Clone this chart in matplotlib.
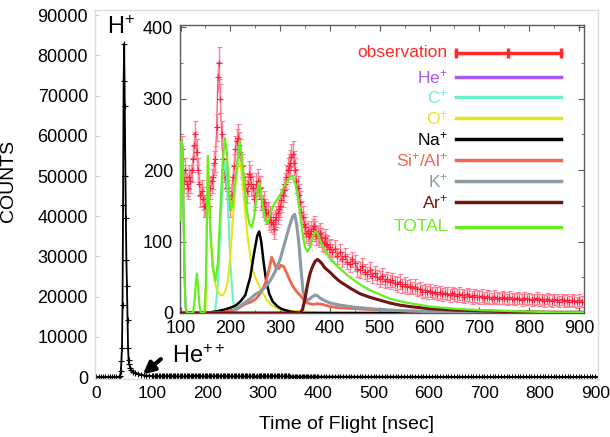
import matplotlib
matplotlib.use("Agg")
import matplotlib.pyplot as plt
import numpy as np

plt.rcParams['font.family'] = ['Liberation Sans', 'DejaVu Sans']
plt.rcParams['mathtext.fontset'] = 'custom'
plt.rcParams['mathtext.rm'] = 'Liberation Sans'
plt.rcParams['mathtext.it'] = 'Liberation Sans'
plt.rcParams['mathtext.default'] = 'regular'

# main panel: H+ peak region (ns, counts)
tof_head = [0, 4, 8, 12, 16, 20, 24, 28, 32, 36, 40, 43, 44, 45, 46, 47, 48, 49, 50, 51,
            52, 53, 54, 55, 56, 57, 58, 59, 61, 63, 66, 70, 75, 80, 85, 90, 95]
counts_head = [0, 0, 0, 0, 0, 0, 0, 0, 0, 0, 0, 300, 1500, 4000, 7200, 17900, 42700, 73700, 82900, 67500,
               49900, 39500, 29000, 22600, 14100, 7200, 4200, 3200, 2200, 1700, 1300, 1000, 800, 600, 450, 350, 300]

# observation: 100..397.5 ns every 2.5 ns, then 400..905 ns every 5 ns
tof_obs_a = np.arange(100, 400, 2.5)
obs_a = [215, 230, 190, 185, 200, 180, 175, 190, 185, 200,
         215, 235, 250, 225, 200, 180, 165, 170, 160, 150,
         150, 160, 165, 150, 175, 185, 190, 210, 215, 260,
         330, 350, 300, 250, 215, 200, 190, 175, 170, 160,
         150, 165, 190, 205, 230, 240, 245, 235, 225, 205,
         190, 180, 175, 170, 180, 195, 190, 180, 175, 160,
         165, 180, 185, 175, 175, 160, 150, 155, 145, 140,
         140, 130, 135, 128, 125, 118, 130, 135, 140, 145,
         150, 158, 165, 172, 180, 190, 200, 205, 210, 218,
         222, 210, 200, 185, 175, 165, 155, 142, 135, 125,
         120, 112, 115, 108, 110, 115, 118, 122, 115, 108,
         110, 105, 112, 106, 100, 98, 105, 96, 95, 90]
err_a = [18, 18, 17, 17, 17, 16, 16, 17, 17, 17,
         18, 18, 19, 18, 17, 16, 16, 16, 16, 15,
         15, 16, 16, 15, 16, 17, 17, 17, 18, 19,
         21, 22, 20, 19, 18, 17, 17, 16, 16, 16,
         15, 16, 17, 17, 18, 18, 19, 18, 18, 17,
         17, 16, 16, 16, 16, 17, 17, 16, 16, 16,
         16, 16, 17, 16, 16, 16, 15, 15, 15, 15,
         15, 14, 15, 14, 14, 14, 14, 15, 15, 15,
         15, 16, 16, 16, 16, 17, 17, 17, 18, 18,
         18, 17, 17, 17, 16, 16, 15, 15, 15, 14,
         14, 14, 14, 13, 13, 14, 14, 14, 14, 13,
         13, 13, 14, 13, 13, 13, 13, 13, 13, 12]
tof_obs_b = np.arange(400, 910, 5)
obs_b = [92, 85, 90, 80, 85, 75, 80, 72, 68, 75,
         70, 62, 60, 66, 58, 55, 60, 52, 56, 50,
         48, 52, 45, 47, 43, 46, 42, 40, 44, 38,
         40, 36, 38, 35, 37, 33, 34, 30, 32, 29,
         31, 28, 30, 27, 29, 26, 28, 27, 25, 28,
         26, 24, 27, 25, 23, 26, 24, 22, 25, 23,
         22, 24, 21, 23, 22, 20, 23, 21, 20, 22,
         21, 19, 22, 20, 19, 21, 20, 18, 21, 19,
         20, 18, 19, 21, 18, 19, 17, 20, 18, 17,
         19, 18, 16, 19, 17, 18, 16, 18, 17, 15,
         18, 16]
err_b = [12, 12, 12, 11, 12, 11, 11, 11, 11, 11,
         11, 11, 11, 11, 11, 10, 11, 10, 10, 10,
         11, 11, 10, 10, 10, 10, 10, 10, 10, 10,
         10, 10, 10, 9, 10, 9, 9, 9, 9, 9,
         9, 9, 9, 9, 9, 9, 9, 9, 9, 9,
         9, 9, 9, 9, 9, 9, 9, 9, 9, 9,
         9, 9, 9, 9, 9, 8, 9, 9, 8, 9,
         9, 8, 9, 8, 8, 9, 8, 8, 9, 8,
         8, 8, 8, 9, 8, 8, 8, 8, 8, 8,
         8, 8, 8, 8, 8, 8, 8, 8, 8, 8,
         8, 8]
tof_obs = np.concatenate([tof_obs_a, tof_obs_b])
obs = obs_a + obs_b
obs_err = err_a + err_b

# model components
he_t = [100, 102, 104, 106, 108, 110, 112, 910]
he_v = [180, 240, 232, 140, 55, 10, 0, 0]
c_t = [100, 165, 170, 175, 180, 185, 189, 193, 197, 201, 205, 210, 215, 910]
c_v = [0, 0, 5, 40, 120, 190, 212, 190, 120, 60, 20, 3, 0, 0]
o_t = [100, 150, 153, 155, 157, 160, 165, 170, 175, 180, 185, 190, 195, 200, 205, 210, 215, 220,
       225, 230, 235, 240, 245, 250, 255, 260, 270, 280, 290, 300, 320, 350, 400, 910]
o_v = [0, 0, 120, 215, 170, 110, 60, 40, 30, 25, 25, 30, 45, 80, 130, 180, 205, 210,
       180, 140, 105, 80, 60, 50, 42, 35, 22, 12, 8, 5, 3, 2, 0, 0]
na_t = [100, 150, 170, 190, 210, 220, 230, 240, 248, 254, 258, 262, 267, 272, 278, 285, 295, 305, 320, 340, 910]
na_v = [0, 0, 2, 5, 10, 16, 25, 50, 85, 108, 114, 100, 70, 45, 27, 16, 9, 5, 2, 0, 0]
si_t = [100, 180, 200, 215, 228, 240, 250, 258, 265, 272, 278, 283, 288, 292, 297, 302, 307, 312,
        318, 325, 333, 341, 348, 355, 365, 375, 385, 400, 420, 450, 500, 600, 700, 910]
si_v = [0, 0, 3, 6, 12, 15, 19, 25, 33, 45, 62, 78, 70, 62, 62, 67, 65, 58,
        48, 38, 30, 24, 18, 14, 12, 13, 12, 9, 7, 6, 4, 2, 1, 0]
k_t = [100, 200, 210, 220, 230, 240, 250, 260, 270, 280, 290, 300, 310, 318, 325, 329, 333, 338,
       342, 346, 350, 355, 360, 365, 370, 375, 380, 390, 400, 420, 450, 500, 550, 600, 700, 800, 910]
k_v = [0, 0, 5, 10, 15, 20, 26, 30, 36, 45, 58, 75, 100, 120, 135, 138, 125, 95,
       60, 30, 20, 18, 20, 23, 25, 24, 21, 17, 14, 11, 8, 5, 3, 2, 1, 0, 0]
ar_t = [100, 340, 345, 350, 355, 360, 365, 370, 375, 380, 385, 390, 400, 410, 420, 440, 460, 480,
        500, 520, 540, 560, 600, 650, 700, 750, 800, 850, 910]
ar_v = [0, 0, 5, 20, 40, 55, 65, 72, 75, 72, 68, 63, 57, 50, 44, 35, 27, 22,
        18, 14, 11, 9, 6, 4, 3, 2, 1.5, 1, 1]
tot_t = [100, 102, 104, 106, 108, 110, 113, 125, 128, 131, 133, 135, 138, 141, 148, 151, 153, 155,
         157, 160, 165, 170, 175, 180, 185, 189, 193, 197, 201, 205, 210, 215, 219, 223, 228, 233,
         238, 243, 248, 253, 257, 260, 265, 270, 275, 280, 290, 300, 310, 320, 325, 330, 335, 340,
         345, 350, 355, 360, 365, 370, 375, 380, 390, 400, 420, 440, 460, 480, 500, 520, 550, 600,
         650, 700, 750, 800, 850, 910]
tot_v = [130, 240, 235, 150, 60, 10, 0, 0, 15, 45, 55, 40, 10, 0, 0, 40, 130, 220,
         175, 115, 65, 45, 70, 145, 215, 245, 225, 170, 145, 150, 185, 215, 240, 220, 180, 145,
         125, 120, 135, 165, 182, 175, 150, 130, 125, 140, 155, 165, 180, 190, 192, 182, 165, 140,
         112, 92, 86, 92, 105, 114, 112, 102, 88, 76, 62, 50, 40, 32, 26, 20, 15, 9,
         6, 4, 3, 2, 1, 1]

series = [
    ("He$^{+}$", he_t, he_v, "#a65cf2", 1.5),
    ("C$^{+}$", c_t, c_v, "#6cf0cc", 1.5),
    ("O$^{+}$", o_t, o_v, "#e6e614", 1.5),
    ("Na$^{+}$", na_t, na_v, "black", 1.8),
    ("Si$^{+}$/Al$^{+}$", si_t, si_v, "#f2664e", 2.0),
    ("K$^{+}$", k_t, k_v, "#8c9ba3", 2.2),
    ("Ar$^{+}$", ar_t, ar_v, "#701414", 2.2),
    ("TOTAL", tot_t, tot_v, "#66ee22", 1.6),
]

fig = plt.figure(figsize=(6.1, 4.37), dpi=100)

# ---- main panel ----
ax = fig.add_axes([0.1557, 0.1327, 0.8246, 0.8444])
main_t = list(tof_head) + list(tof_obs)
main_c = list(counts_head) + list(obs)
ax.plot(main_t, main_c, color="black", lw=1.3, marker="+", ms=4, mew=0.8)
ax.set_xlim(-2.7, 905)
ax.set_ylim(-500, 91300)
ax.set_xticks(np.arange(0, 901, 100))
ax.set_yticks(np.arange(0, 90001, 10000))
for s in ax.spines.values():
    s.set_color("#e2dada")
    s.set_linewidth(1.0)
ax.tick_params(direction="in", length=3, color="#d0c8c8", pad=5)
ax.tick_params(axis="y", labelsize=13)
ax.tick_params(axis="x", labelsize=12.5)
ax.set_xlabel("Time of Flight [nsec]", fontsize=14)
ax.set_ylabel("COUNTS", fontsize=14)
ax.xaxis.set_label_coords(0.5, -0.10)
ax.yaxis.set_label_coords(-0.155, 0.537)

ax.text(19, 87000, "H$^{+}$", fontsize=17, ha="left", va="center")
ax.text(137, 5000, "He$^{++}$", fontsize=17, ha="left", va="center")
ax.annotate("", xy=(80, 200), xytext=(120, 4900),
            arrowprops=dict(arrowstyle="-|>", color="black", lw=3, mutation_scale=17))

# ---- inset ----
ins = fig.add_axes([0.2951, 0.2838, 0.6623, 0.6590])
ins.plot(tof_obs, obs, color="#ff3a50", lw=0.8, zorder=1)
ins.errorbar(tof_obs, obs, yerr=obs_err, fmt="+", color="#ff1f3a", ms=4, mew=0.8,
             ecolor="#ff8095", elinewidth=1.0, capsize=1.8, capthick=0.8, zorder=1)
for name, t, v, col, lw in series:
    ins.plot(t, v, color=col, lw=lw, zorder=3 if name != "TOTAL" else 4)
ins.set_xlim(99, 910)
ins.set_ylim(0, 403)
ins.set_xticks(np.arange(100, 901, 100))
ins.set_xticks(np.arange(100, 901, 50), minor=True)
ins.set_yticks(np.arange(0, 401, 100))
ins.set_yticks(np.arange(0, 401, 50), minor=True)
for s in ins.spines.values():
    s.set_color("#5a5a5a")
    s.set_linewidth(1.0)
ins.tick_params(which="both", direction="in", top=True, right=True, color="#5a5a5a")
ins.tick_params(which="major", length=4, labelsize=13, pad=5)
ins.tick_params(which="minor", length=2.5)

# legend drawn inside the inset
rows_y = [0.904, 0.820, 0.750, 0.677, 0.604, 0.531, 0.458, 0.385, 0.299]
x0, x1, xt = 0.683, 0.943, 0.663
tr = ins.transAxes
ins.plot([x0, x1], [rows_y[0]] * 2, color="#ff2a2a", lw=2.5, transform=tr, zorder=5)
ins.plot([x0, (x0 + x1) / 2, x1], [rows_y[0]] * 3, ls="none", marker="|", ms=7, mew=2.5,
         color="#ff2a2a", transform=tr, zorder=5)
ins.text(xt, rows_y[0], "observation", color="#ff2a2a", fontsize=12.5, ha="right", va="center", transform=tr)
for (name, t, v, col, lw), yy in zip(series, rows_y[1:]):
    ins.plot([x0, x1], [yy, yy], color=col, lw=2.5, transform=tr, zorder=5)
    ins.text(xt, yy, name, color=col, fontsize=12.5, ha="right", va="center", transform=tr)

fig.savefig("out.png", dpi=100)
